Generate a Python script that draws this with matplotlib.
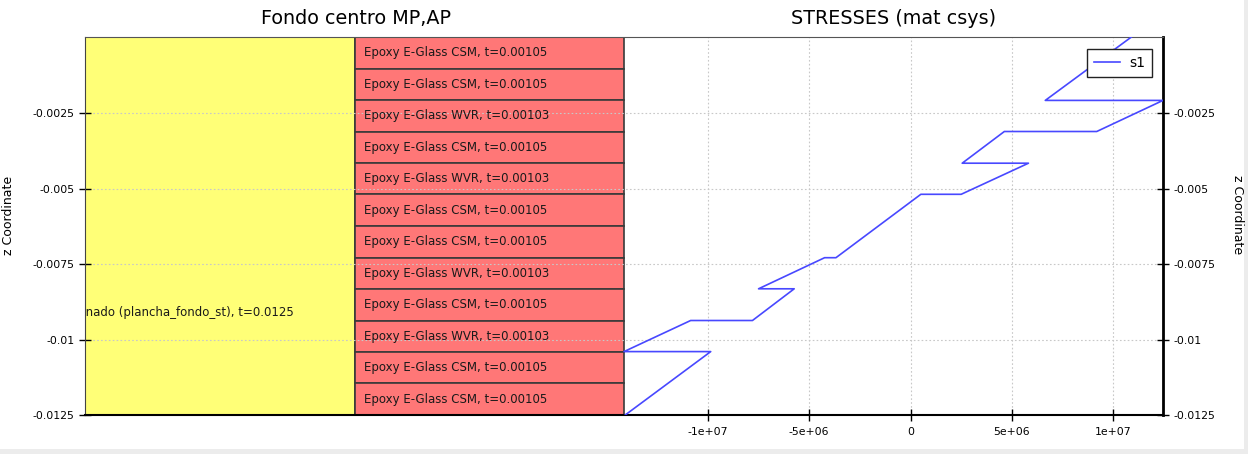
import matplotlib
matplotlib.use("Agg")
import matplotlib.pyplot as plt
from matplotlib.patches import Rectangle
from matplotlib.transforms import blended_transform_factory

plt.rcParams['font.family'] = ['DejaVu Sans']

# ---- data ----
layer_names = ["Epoxy E-Glass CSM", "Epoxy E-Glass CSM", "Epoxy E-Glass WVR",
               "Epoxy E-Glass CSM", "Epoxy E-Glass WVR", "Epoxy E-Glass CSM",
               "Epoxy E-Glass CSM", "Epoxy E-Glass WVR", "Epoxy E-Glass CSM",
               "Epoxy E-Glass WVR", "Epoxy E-Glass CSM", "Epoxy E-Glass CSM"]
layer_thick = [0.00105, 0.00105, 0.00103, 0.00105, 0.00103, 0.00105,
               0.00105, 0.00103, 0.00105, 0.00103, 0.00105, 0.00105]
core_label = "Laminado (plancha_fondo_st), t=0.0125"
plate_bottom = -0.0125

stress_s1 = [-1.408e7, -0.986e7, -1.414e7, -1.085e7, -0.780e7, -0.574e7,
             -0.750e7, -0.424e7, -0.368e7, 0.051e7, 0.250e7, 0.582e7,
             0.255e7, 0.463e7, 0.919e7, 1.246e7, 0.665e7, 1.090e7]
z_s1 = [-0.0125, -0.0104, -0.0104, -0.00937, -0.00937, -0.00832,
        -0.00832, -0.00729, -0.00729, -0.00519, -0.00519, -0.00416,
        -0.00416, -0.00311, -0.00311, -0.00208, -0.00208, 0.00002]

yticks = [-0.0125, -0.01, -0.0075, -0.005, -0.0025]
ytick_labels = ["-0.0125", "-0.01", "-0.0075", "-0.005", "-0.0025"]
xticks = [-1e7, -5e6, 0, 5e6, 1e7]
xtick_labels = ["-1e+07", "-5e+06", "0", "5e+06", "1e+07"]

title_left = "Fondo centro MP,AP"
title_right = "STRESSES (mat csys)"
ylabel = "z Coordinate"

# ---- figure ----
W, H = 1248, 454
fig = plt.figure(figsize=(W / 100, H / 100), dpi=100)
fig.patch.set_facecolor("white")
fig.add_artist(Rectangle((0, 0), 1, 5 / H, transform=fig.transFigure,
                         facecolor="#ececec", edgecolor="none"))
fig.add_artist(Rectangle((1 - 4 / W, 0), 4 / W, 1, transform=fig.transFigure,
                         facecolor="#ececec", edgecolor="none"))

ax = fig.add_axes([85 / W, 39 / H, 1078 / W, 378 / H])

smin, smax = min(stress_s1), max(stress_s1)
span = smax - smin
top = plate_bottom + sum(layer_thick)
ax.set_xlim(smin - span, smax)
ax.set_ylim(plate_bottom, top)

tr = blended_transform_factory(ax.transAxes, ax.transData)
ax.add_patch(Rectangle((0, plate_bottom), 0.25, top - plate_bottom, transform=tr,
                       facecolor="#ffff77", edgecolor="#333333", lw=1.2, zorder=1))
z = top
for name, t in zip(layer_names, layer_thick):
    ax.add_patch(Rectangle((0.25, z - t), 0.25, t, transform=tr,
                           facecolor="#ff7777", edgecolor="#3a3a3a", lw=1.2, zorder=1))
    ax.text(0.259, z - t / 2, f"{name}, t={t:g}", transform=tr, fontsize=8.5,
            va="center", ha="left", color="#1a1a1a", zorder=3)
    z -= t

ax.text(-0.0262, 0.271, core_label, transform=ax.transAxes, fontsize=8.5,
        va="center", ha="left", color="#1a1a1a", clip_on=True, zorder=3)

ax.plot(stress_s1, z_s1, color="#4848ff", lw=1.2, label="s1", zorder=4)

ax.set_xticks(xticks, xtick_labels)
ax.set_yticks(yticks, ytick_labels)
ax.tick_params(axis="y", left=True, right=True, labelleft=True, labelright=True,
               direction="inout", length=9, width=1, labelsize=7.8, pad=3)
ax.tick_params(axis="x", direction="inout", length=9, width=1, labelsize=7.8, pad=4)
ax.grid(True, color="#c8c8c8", linestyle=(0, (1.5, 2)), lw=0.8)

ax.spines["right"].set_linewidth(2)
ax.spines["right"].set_color("black")
ax.spines["bottom"].set_linewidth(1.5)
ax.spines["bottom"].set_color("black")
ax.spines["left"].set_color("#444444")
ax.spines["top"].set_color("#555555")

leg = ax.legend(loc="upper right", bbox_to_anchor=(0.9898, 0.968), borderaxespad=0,
                fontsize=10, fancybox=False, framealpha=1, edgecolor="#222222",
                handlelength=1.87, handletextpad=0.65, borderpad=0.5)
leg.get_frame().set_linewidth(1.0)

fig.text(356 / W, 1 - 18 / H, title_left, fontsize=13.8, ha="center", va="center")
fig.text(894 / W, 1 - 18 / H, title_right, fontsize=13.8, ha="center", va="center")
fig.text(9 / W, 1 - 215 / H, ylabel, fontsize=9, rotation=90, ha="center", va="center")
fig.text(1238 / W, 1 - 215 / H, ylabel, fontsize=9, rotation=270, ha="center", va="center")

fig.savefig("out.png", dpi=100)
